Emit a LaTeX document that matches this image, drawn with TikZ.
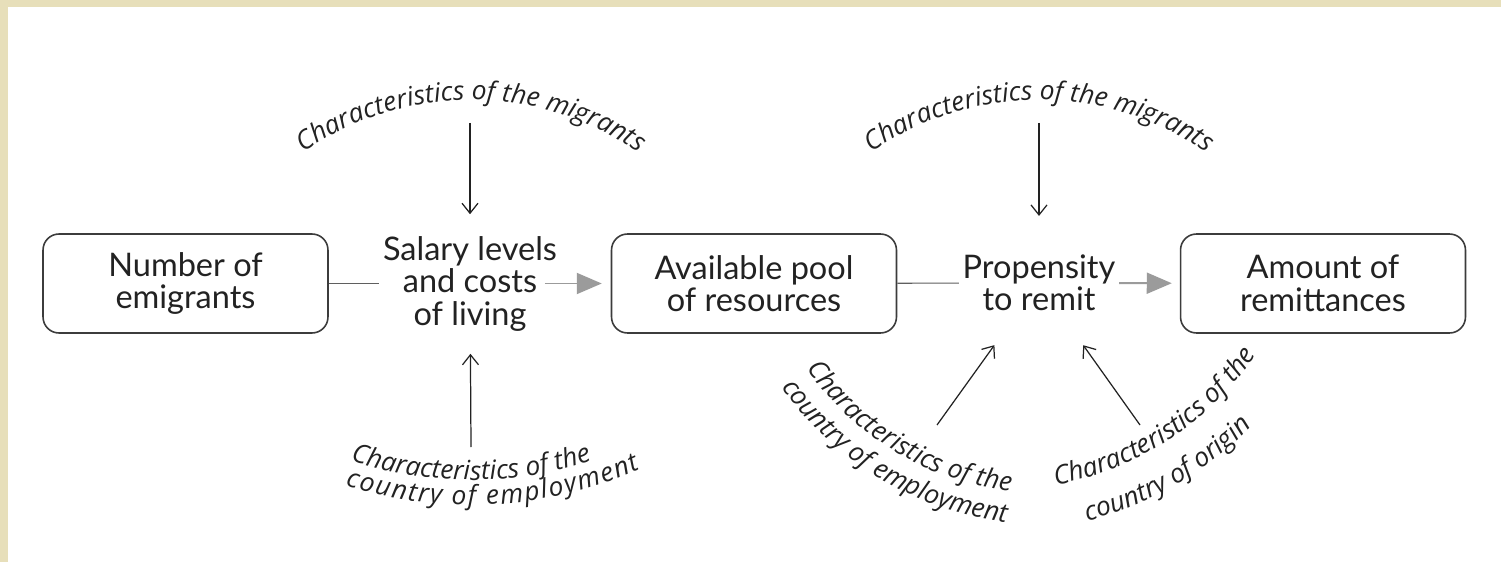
\documentclass[tikz,border=0pt]{standalone}
\usepackage{fontspec}
\setmainfont{Lato}
\newfontfamily\curvefont{Open Sans}
\usetikzlibrary{arrows.meta,calc,decorations.text}
\definecolor{paper}{RGB}{231,223,186}
\definecolor{ink}{RGB}{34,34,34}
\definecolor{boxline}{RGB}{60,60,60}
\definecolor{linkgray}{RGB}{95,95,95}
\definecolor{flowgray}{RGB}{155,155,155}
\newcommand\boxfont{\fontsize{18.5}{18.5}\selectfont}
\newcommand\curvestyle{\curvefont\itshape\fontsize{15}{17}\selectfont\color{ink}}
\tikzset{
  box/.style = {draw = boxline, line width = 0.9pt, rounded corners = 0.32cm,
    minimum width = 5.7cm, minimum height = 1.98cm, align = center, font = \boxfont, text = ink},
  plain/.style = {align = center, font = \boxfont, text = ink, inner sep = 2pt},
  link/.style = {draw = linkgray, line width = 0.6pt},
  flow/.style = {draw = flowgray, line width = 1.1pt, -{Triangle[length = 0.5cm, width = 0.42cm]}},
  infl/.style = {draw = ink, line width = 0.7pt, -{Straight Barb[length = 0.2cm, width = 0.32cm]}},
  curvetext/.style = {decorate, decoration = {text along path, text align = center, text = {|\curvestyle|#1}}},
  curvefit/.style = {decorate, decoration = {text along path, text align = fit to path, text = {|\curvestyle|#1}}}
}
\begin{document}
\begin{tikzpicture}[x = 0.02cm, y = 0.02cm]
  \fill[paper](0,0)rectangle(1501,562);
  \fill[white](8,0)rectangle(1501,555);
  \useasboundingbox(0,0)rectangle(1501,562);
  % main chain
  \node[box](emig)at(185.5,278.5){Number of\\emigrants};
  \node[plain](salary)at(470,278.5){Salary levels\\and costs\\of living};
  \node[box](pool)at(754,278.5){Available pool\\of resources};
  \node[plain](remit)at(1039,279){Propensity\\to remit};
  \node[box](amount)at(1323,278.5){Amount of\\remittances};
  \draw[link](emig)to(salary);
  \draw[flow, shorten < = -0.32cm, shorten > = 0.18cm](salary)to(pool);
  \draw[link](pool)to(remit);
  \draw[flow, shorten > = 0.16cm](remit)to(amount);
  % influences
  \coordinate(migL)at(470,439);
  \coordinate(empL)at(471,115);
  \coordinate(migR)at(1039,439);
  \coordinate(empR)at(937,137);
  \coordinate(orig)at(1140,137);
  \draw[infl, shorten > = 0.36cm](migL)to(salary);
  \draw[infl, shorten > = 0.38cm](empL)to(salary);
  \draw[infl, shorten > = 0.7cm](migR)to(remit);
  \draw[infl, shorten > = 0.74cm](empR)to(remit);
  \draw[infl, shorten > = 0.74cm](orig)to(remit);
  % curved labels
  \coordinate(topL)at(471,169);
  \coordinate(topR)at(1039,169);
  \coordinate(lowL)at(471,471);
  \coordinate(lowM)at(1048,364);
  \coordinate(lowR)at(1000,382);
  \path[curvetext = Characteristics of the migrants]($(topL)+(130:293)$)arc[start angle = 130, end angle = 50, radius = 293];
  \path[curvetext = Characteristics of the migrants]($(topR)+(130:293)$)arc[start angle = 130, end angle = 50, radius = 293];
  \path[curvetext = Characteristics of the]($(lowL)+(244:389)$)arc[start angle = 244, end angle = 296, radius = 389];
  \path[curvefit = country of employment]($(lowL)+(252.3:414)$)arc[start angle = 252.3, end angle = 294.2, radius = 414];
  \path[curvetext = Characteristics of the]($(lowM)+(210:296)$)arc[start angle = 210, end angle = 268, radius = 296];
  \path[curvetext = country of employment]($(lowM)+(210:327)$)arc[start angle = 210, end angle = 268, radius = 327];
  \path[curvetext = Characteristics of the]($(lowR)+(276:310)$)arc[start angle = 276, end angle = 330, radius = 310];
  \path[curvetext = country of origin]($(lowR)+(280:352)$)arc[start angle = 280, end angle = 320, radius = 352];
\end{tikzpicture}
\end{document}
